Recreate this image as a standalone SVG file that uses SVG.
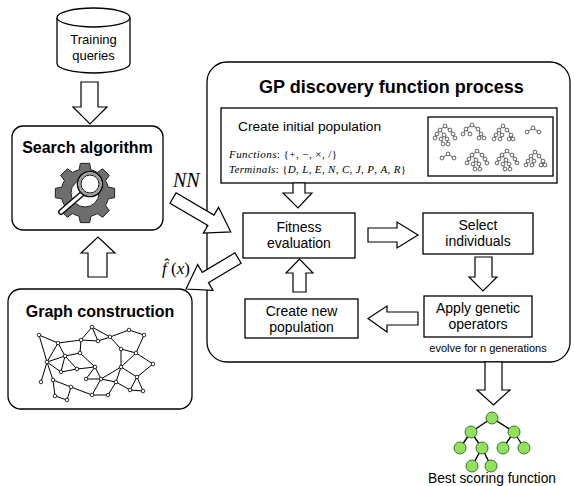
<svg xmlns="http://www.w3.org/2000/svg" xmlns:xlink="http://www.w3.org/1999/xlink" width="575" height="486" viewBox="0 0 575 486">
  <style>
    .box { fill: #fff; stroke: #000; stroke-width: 1.3; }
    .blk { fill: #fff; stroke: #000; stroke-width: 1.2; stroke-linejoin: miter; }
    .t { font-family: "Liberation Sans", Arial, sans-serif; fill: #000; }
    .tb { font-family: "Liberation Sans", Arial, sans-serif; font-weight: bold; fill: #000; }
    .m { font-family: "Liberation Serif", "Times New Roman", serif; fill: #000; }
    .i { font-style: italic; }
    .ge { stroke: #000; stroke-width: 1; fill: none; }
    .gn { fill: #fff; stroke: #000; stroke-width: 0.8; }
    .pe { stroke: #000; stroke-width: 0.6; fill: none; }
    .pn { fill: #fff; stroke: #000; stroke-width: 0.6; }
    .ln { fill: #8ee35a; stroke: #2b4a1a; stroke-width: 0.8; }
  </style>
  <defs>
    <!-- small expression trees used in the population panel -->
    <g id="treeTall">
      <path class="pe" d="M0,0L-5,4M0,0L5,4M-5,4L-8,8M-5,4L-1,9M5,4L8,8M-8,8L-10,12M-1,9L-4,13M-1,9L2,13M8,8L10,12M-4,13L-2,18M2,13L3,18"/>
      <g class="pn">
        <circle cx="0" cy="0" r="1.9"/><circle cx="-5" cy="4" r="1.9"/><circle cx="5" cy="4" r="1.9"/>
        <circle cx="-8" cy="8" r="1.9"/><circle cx="-1" cy="9" r="1.9"/><circle cx="8" cy="8" r="1.9"/>
        <circle cx="-10" cy="12" r="1.9"/><circle cx="-4" cy="13" r="1.9"/><circle cx="2" cy="13" r="1.9"/><circle cx="10" cy="12" r="1.9"/>
        <circle cx="-2" cy="18" r="1.9"/><circle cx="3" cy="18" r="1.9"/>
      </g>
    </g>
    <g id="treeWide">
      <path class="pe" d="M0,0L-6,4M0,0L6,4M-6,4L-9,9M-6,4L-2,9M6,4L9,9M9,9L7,13M9,9L12,13"/>
      <g class="pn">
        <circle cx="0" cy="0" r="1.9"/><circle cx="-6" cy="4" r="1.9"/><circle cx="6" cy="4" r="1.9"/>
        <circle cx="-9" cy="9" r="1.9"/><circle cx="-2" cy="9" r="1.9"/><circle cx="9" cy="9" r="1.9"/>
        <circle cx="7" cy="13" r="1.9"/><circle cx="12" cy="13" r="1.9"/>
      </g>
    </g>
    <g id="treeMid">
      <path class="pe" d="M0,0L-4,4M0,0L4,4M-4,4L-7,9M-4,4L-1,9M4,4L8,9M-7,9L-9,13M-1,9L-3,13M8,9L6,13M8,9L10,13"/>
      <g class="pn">
        <circle cx="0" cy="0" r="1.9"/><circle cx="-4" cy="4" r="1.9"/><circle cx="4" cy="4" r="1.9"/>
        <circle cx="-7" cy="9" r="1.9"/><circle cx="-1" cy="9" r="1.9"/><circle cx="8" cy="9" r="1.9"/>
        <circle cx="-9" cy="13" r="1.9"/><circle cx="-3" cy="13" r="1.9"/><circle cx="6" cy="13" r="1.9"/><circle cx="10" cy="13" r="1.9"/>
      </g>
    </g>
    <g id="treeSmall">
      <path class="pe" d="M0,0L-6,4M0,0L6,4"/>
      <g class="pn">
        <circle cx="0" cy="0" r="1.9"/><circle cx="-6" cy="4" r="1.9"/><circle cx="6" cy="4" r="1.9"/>
      </g>
    </g>
  </defs>

  <rect width="575" height="486" fill="#fff"/>

  <!-- Training queries (database cylinder) -->
  <g id="training-queries">
    <path class="box" d="M57,17.5 L57,63.5 A36.5,9.5 0 0 0 130,63.5 L130,17.5"/>
    <ellipse class="box" cx="93.5" cy="17.5" rx="36.5" ry="9.5"/>
    <text class="t" x="93.5" y="44" font-size="13" text-anchor="middle">Training</text>
    <text class="t" x="93.5" y="60" font-size="13" text-anchor="middle">queries</text>
  </g>

  <!-- Search algorithm -->
  <g id="search-algorithm">
    <rect class="box" x="12" y="126" width="151" height="104" rx="11"/>
    <text class="tb" x="87.5" y="153" font-size="16" text-anchor="middle">Search algorithm</text>
    <g transform="translate(85,193)">
      <path fill="#6e6e6e" stroke="#222" stroke-width="1" d="M23.29,-5.81 L29.63,-4.69 L29.63,4.69 L23.29,5.81 A24,24 0 0 1 20.57,12.36 L24.27,17.63 L17.63,24.27 L12.36,20.57 A24,24 0 0 1 5.81,23.29 L4.69,29.63 L-4.69,29.63 L-5.81,23.29 A24,24 0 0 1 -12.36,20.57 L-17.63,24.27 L-24.27,17.63 L-20.57,12.36 A24,24 0 0 1 -23.29,5.81 L-29.63,4.69 L-29.63,-4.69 L-23.29,-5.81 A24,24 0 0 1 -20.57,-12.36 L-24.27,-17.63 L-17.63,-24.27 L-12.36,-20.57 A24,24 0 0 1 -5.81,-23.29 L-4.69,-29.63 L4.69,-29.63 L5.81,-23.29 A24,24 0 0 1 12.36,-20.57 L17.63,-24.27 L24.27,-17.63 L20.57,-12.36 A24,24 0 0 1 23.29,-5.81 Z"/>
      <circle cx="0" cy="0" r="14" fill="#fff" stroke="#222" stroke-width="1"/>
      <line x1="-2" y1="0" x2="-24" y2="19" stroke="#111" stroke-width="6" stroke-linecap="round"/>
      <line x1="-2" y1="0" x2="-24" y2="19" stroke="#fff" stroke-width="3" stroke-linecap="round"/>
      <circle cx="5" cy="-9" r="12.5" fill="#fff" stroke="#111" stroke-width="1.6"/>
      <circle cx="5" cy="-9" r="10.5" fill="none" stroke="#9a9a9a" stroke-width="2"/>
      <circle cx="5" cy="-9" r="9" fill="#fff" stroke="#111" stroke-width="1"/>
    </g>
  </g>

  <!-- Graph construction -->
  <g id="graph-construction">
    <rect class="box" x="8" y="289" width="184" height="120" rx="13"/>
    <text class="tb" x="100" y="317" font-size="16" text-anchor="middle">Graph construction</text>
    <path class="ge" d="M39,335L58,343 M39,335L47,362 M58,343L81,340 M81,340L92,327 M92,327L98,341 M81,340L98,341 M92,327L110,337 M98,341L110,337 M110,337L129,330 M129,330L144,335 M144,335L136,353 M110,337L121,349 M121,349L136,353 M136,353L153,364 M121,349L121,367 M136,353L121,367 M58,343L47,362 M58,343L65,356 M81,340L80,353 M47,362L65,356 M65,356L80,353 M47,362L61,372 M65,356L61,372 M61,372L77,369 M65,356L77,369 M80,353L95,367 M77,369L95,367 M95,367L86,379 M95,367L101,379 M86,379L101,379 M47,362L41,382 M47,362L53,380 M53,380L55,396 M53,380L71,387 M55,396L67,400 M71,387L67,400 M71,387L92,395 M92,395L108,395 M108,395L116,382 M101,379L116,382 M101,379L121,367 M116,382L121,367 M121,367L137,377 M137,377L153,364 M137,377L130,390 M137,377L143,391 M130,390L143,391 M116,382L130,390 M101,379L92,395"/>
    <g class="gn">
      <circle cx="39" cy="335" r="1.8"/><circle cx="58" cy="343" r="1.8"/><circle cx="81" cy="340" r="1.8"/>
      <circle cx="92" cy="327" r="1.8"/><circle cx="98" cy="341" r="1.8"/><circle cx="110" cy="337" r="1.8"/>
      <circle cx="129" cy="330" r="1.8"/><circle cx="144" cy="335" r="1.8"/><circle cx="121" cy="349" r="1.8"/>
      <circle cx="136" cy="353" r="1.8"/><circle cx="153" cy="364" r="1.8"/><circle cx="47" cy="362" r="1.8"/>
      <circle cx="65" cy="356" r="1.8"/><circle cx="80" cy="353" r="1.8"/><circle cx="61" cy="372" r="1.8"/>
      <circle cx="77" cy="369" r="1.8"/><circle cx="95" cy="367" r="1.8"/><circle cx="121" cy="367" r="1.8"/>
      <circle cx="41" cy="382" r="1.8"/><circle cx="53" cy="380" r="1.8"/><circle cx="71" cy="387" r="1.8"/>
      <circle cx="86" cy="379" r="1.8"/><circle cx="101" cy="379" r="1.8"/><circle cx="116" cy="382" r="1.8"/>
      <circle cx="137" cy="377" r="1.8"/><circle cx="130" cy="390" r="1.8"/><circle cx="143" cy="391" r="1.8"/>
      <circle cx="55" cy="396" r="1.8"/><circle cx="67" cy="400" r="1.8"/><circle cx="92" cy="395" r="1.8"/>
      <circle cx="108" cy="395" r="1.8"/>
    </g>
  </g>

  <!-- GP discovery function process container -->
  <g id="gp-process">
    <rect class="box" x="207" y="62" width="363" height="300" rx="20"/>
    <text class="tb" x="391.5" y="93" font-size="18" text-anchor="middle">GP discovery function process</text>
    <text class="t" x="488" y="352" font-size="11" text-anchor="middle">evolve for n generations</text>
  </g>

  <g id="initial-population">
    <rect class="box" x="221" y="108" width="336" height="75"/>
    <text class="t" x="238" y="131" font-size="13.7">Create initial population</text>
    <text class="m" x="229" y="158" font-size="11" textLength="108" lengthAdjust="spacing"><tspan class="i">Functions</tspan>: {+, −, ×, /}</text>
    <text class="m" x="229" y="173" font-size="11" textLength="177" lengthAdjust="spacing"><tspan class="i">Terminals</tspan>: {<tspan class="i">D</tspan>, <tspan class="i">L</tspan>, <tspan class="i">E</tspan>, <tspan class="i">N</tspan>, <tspan class="i">C</tspan>, <tspan class="i">J</tspan>, <tspan class="i">P</tspan>, <tspan class="i">A</tspan>, <tspan class="i">R</tspan>}</text>
    <rect class="box" x="428" y="117" width="125" height="59" stroke-width="1"/>
    <use xlink:href="#treeTall" x="445" y="126"/>
    <use xlink:href="#treeWide" x="472" y="125"/>
    <use xlink:href="#treeMid" x="503" y="126"/>
    <use xlink:href="#treeSmall" x="533" y="128"/>
    <use xlink:href="#treeSmall" x="448" y="154"/>
    <use xlink:href="#treeTall" x="477" y="151"/>
    <use xlink:href="#treeTall" x="507" y="151"/>
    <use xlink:href="#treeMid" x="535" y="152"/>
  </g>

  <g id="fitness-evaluation">
    <rect class="box" x="243" y="213" width="112" height="45"/>
    <text class="t" x="299" y="232" font-size="14" text-anchor="middle">Fitness</text>
    <text class="t" x="299" y="248" font-size="14" text-anchor="middle">evaluation</text>
  </g>

  <g id="select-individuals">
    <rect class="box" x="423" y="213" width="110" height="41"/>
    <text class="t" x="478" y="230" font-size="14" text-anchor="middle">Select</text>
    <text class="t" x="478" y="246" font-size="14" text-anchor="middle">individuals</text>
  </g>

  <g id="apply-operators">
    <rect class="box" x="424" y="296" width="108" height="41"/>
    <text class="t" x="478" y="313" font-size="14" text-anchor="middle">Apply genetic</text>
    <text class="t" x="478" y="329" font-size="14" text-anchor="middle">operators</text>
  </g>

  <g id="create-new-population">
    <rect class="box" x="245" y="299" width="113" height="39"/>
    <text class="t" x="301.5" y="316" font-size="14" text-anchor="middle">Create new</text>
    <text class="t" x="301.5" y="332" font-size="14" text-anchor="middle">population</text>
  </g>

  <!-- Best scoring function (result tree) -->
  <g id="best-function">
    <path stroke="#000" stroke-width="1.4" fill="none" d="M492,418L471,432 M492,418L514,432 M471,432L460,448 M471,432L482,448 M514,432L503,448 M514,432L524,448 M482,448L472,466 M482,448L491,466"/>
    <g class="ln">
      <circle cx="492" cy="418" r="6"/><circle cx="471" cy="432" r="6"/><circle cx="514" cy="432" r="6"/>
      <circle cx="460" cy="448" r="6"/><circle cx="482" cy="448" r="6"/><circle cx="503" cy="448" r="6"/>
      <circle cx="524" cy="448" r="6"/><circle cx="472" cy="466" r="6"/><circle cx="491" cy="466" r="6"/>
    </g>
    <text class="t" x="492" y="483" font-size="13.8" text-anchor="middle">Best scoring function</text>
  </g>

  <!-- block arrows -->
  <g id="connectors">
    <polygon class="blk" points="81,82 98,82 98,107 107,107 90,124 73,107 81,107"/>
    <polygon class="blk" points="88,277 107,277 107,253 115,253 98,237 81,253 88,253"/>
    <polygon class="blk" points="293,183 305,183 305,193 312,193 298,208 283,193 293,193"/>
    <polygon class="blk" points="293,292 306,292 306,273 313,273 299.5,259 286,273 293,273"/>
    <polygon class="blk" points="368,228 397,228 397,222 418,235 397,248 397,242 368,242"/>
    <polygon class="blk" points="475,257 492,257 492,277 497,277 483,291 469,277 475,277"/>
    <polygon class="blk" points="418,312 387,312 387,306 368,318.5 387,332 387,325 418,325"/>
    <polygon class="blk" points="485,362 502,362 502,390 510,390 493.5,405 477,390 485,390"/>
    <polygon class="blk" transform="translate(173,198) rotate(30.4)" points="0,-6 44,-6 44,-15 67,0 44,15 44,6 0,6"/>
    <polygon class="blk" transform="translate(238,258) rotate(149.2)" points="0,-6 38,-6 38,-15 60.5,0 38,15 38,6 0,6"/>
    <text class="m i" x="173" y="187" font-size="20">NN</text>
    <text class="m" x="162" y="274" font-size="17"><tspan class="i">f̂</tspan> (<tspan class="i">x</tspan>)</text>
  </g>
</svg>
